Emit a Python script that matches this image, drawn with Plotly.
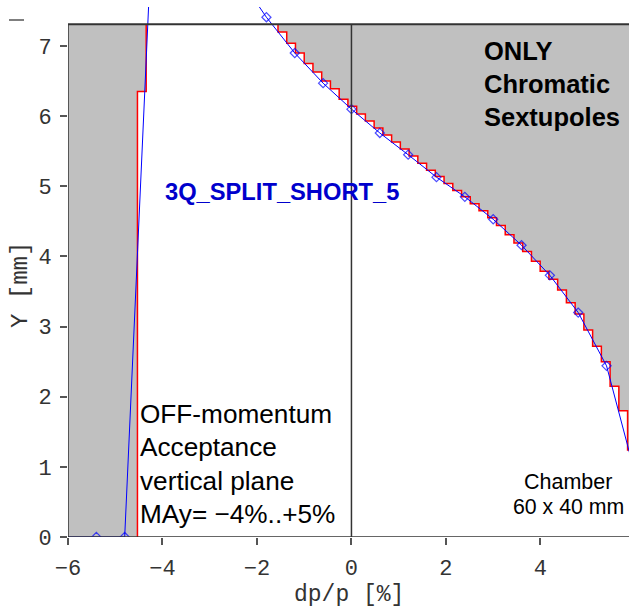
import plotly.graph_objects as go

# ---- data ----
# simulated acceptance points (blue, open diamonds)
dp_pts = [-6.0, -5.4, -4.8, -4.2, -3.6, -3.0, -2.4, -1.8, -1.2, -0.6, 0.0, 0.6,
          1.2, 1.8, 2.4, 3.0, 3.6, 4.2, 4.8, 5.4, 6.0]
y_pts = [0.0, 0.0, 0.0, 8.97, None, None, 8.0, 7.41, 6.90, 6.47, 6.10, 5.76,
         5.45, 5.13, 4.85, 4.53, 4.16, 3.73, 3.20, 2.44, 0.91]

# chamber / frame top (mm)
y_top = 7.31

# left staircase (negative momentum side): edge positions and levels reached
left_edges = [-4.53, -4.345]
left_levels = [6.35, 7.31]

# right staircase (positive side): bin edges and level after each edge
right_edges = [-1.555, -1.37, -1.185, -1.0, -0.815, -0.63, -0.445, -0.26, -0.075,
               0.11, 0.295, 0.48, 0.665, 0.85, 1.035, 1.22, 1.405, 1.59, 1.775,
               1.96, 2.145, 2.33, 2.515, 2.7, 2.885, 3.07, 3.255, 3.44, 3.625,
               3.81, 3.995, 4.18, 4.365, 4.55, 4.735, 4.92, 5.105, 5.29, 5.475,
               5.66, 5.845]
right_levels = [7.20, 7.04, 6.90, 6.75, 6.63, 6.50, 6.39, 6.24, 6.14,
                6.03, 5.93, 5.83, 5.73, 5.63, 5.53, 5.43, 5.33, 5.23, 5.14,
                5.04, 4.94, 4.85, 4.75, 4.65, 4.55, 4.44, 4.31, 4.19, 4.07,
                3.93, 3.79, 3.675, 3.52, 3.34, 3.18, 2.95, 2.72, 2.50, 2.15,
                1.80, 1.24]
right_end = 5.95

x_ticks = [-6, -4, -2, 0, 2, 4]
y_ticks = [0, 1, 2, 3, 4, 5, 6, 7]

X_MIN, X_MAX = -6.0, 5.875
Y_MIN, Y_MAX = 0.0, 7.556

# ---- build staircase paths ----
lx, ly = [], []
prev = 0.0
for i, (e, lv) in enumerate(zip(left_edges, left_levels)):
    lx += [e, e]
    ly += [prev, lv]
    if i + 1 < len(left_edges):
        lx.append(left_edges[i + 1])
        ly.append(lv)
    prev = lv

rx, ry = [], []
prev = y_top
for i, (e, lv) in enumerate(zip(right_edges, right_levels)):
    rx += [e, e]
    ry += [prev, lv]
    nxt = right_edges[i + 1] if i + 1 < len(right_edges) else right_end
    rx.append(nxt)
    ry.append(lv)
    prev = lv

GREY = "#c0c0c0"
fig = go.Figure()

# grey inaccessible regions
fig.add_trace(go.Scatter(
    x=[X_MIN] + lx + [X_MIN], y=[0.0] + ly + [y_top],
    fill="toself", fillcolor=GREY, mode="none", hoverinfo="skip", showlegend=False))
fig.add_trace(go.Scatter(
    x=rx + [right_end], y=ry + [y_top],
    fill="toself", fillcolor=GREY, mode="none", hoverinfo="skip", showlegend=False))

# red staircases
fig.add_trace(go.Scatter(x=lx, y=ly, mode="lines",
                         line=dict(color="red", width=1.5), showlegend=False))
fig.add_trace(go.Scatter(x=rx, y=ry, mode="lines",
                         line=dict(color="red", width=1.5), showlegend=False))

# blue acceptance curve (first point sits on the frame, its marker is hidden)
msize = [0 if x <= X_MIN else 7 for x in dp_pts]
fig.add_trace(go.Scatter(x=dp_pts, y=y_pts, mode="lines+markers",
                         line=dict(color="blue", width=1),
                         marker=dict(symbol="diamond-open", size=msize,
                                     color="blue", line=dict(width=1.2)),
                         connectgaps=False, showlegend=False))

# frame lines / zero line
frame_col = "#333333"
shapes = [
    dict(type="line", x0=X_MIN, x1=X_MAX, y0=y_top, y1=y_top,
         line=dict(color=frame_col, width=2)),
    dict(type="line", x0=X_MIN, x1=X_MIN, y0=0, y1=y_top,
         line=dict(color=frame_col, width=1.5)),
    dict(type="line", x0=X_MIN, x1=X_MAX, y0=0, y1=0,
         line=dict(color=frame_col, width=1.5)),
    dict(type="line", x0=0, x1=0, y0=0, y1=y_top,
         line=dict(color=frame_col, width=1.5)),
    dict(type="line", xref="paper", yref="paper", x0=(9 - 68) / 561, x1=(24 - 68) / 561,
         y0=1 - 13 / 530, y1=1 - 13 / 530, line=dict(color="#555555", width=1.5)),
]

W, H, L, T, B = 629, 610, 68, 7, 73
PW, PH = W - L, H - T - B


def px2paper(px):
    return (px - L) / PW


def py2paper(py):
    return 1 - (py - T) / PH


SANS = "Liberation Sans, Arial, sans-serif"
MONO = "Liberation Mono, Courier New, monospace"
ann = []


def txt(s, px, py, size, color="black", bold=False, xanchor="left"):
    ann.append(dict(x=px2paper(px), y=py2paper(py), xref="paper", yref="paper",
                    text=(f"<b>{s}</b>" if bold else s),
                    showarrow=False, xanchor=xanchor, yanchor="middle",
                    font=dict(family=SANS, size=size, color=color)))


for s, py in [("ONLY", 51), ("Chromatic", 84), ("Sextupoles", 117)]:
    txt(s, 482, py, 25.5, bold=True)
txt("3Q_SPLIT_SHORT_5", 163, 192, 23.7, color="#0000cc", bold=True)
for s, py in [("OFF-momentum", 414), ("Acceptance", 447), ("vertical plane", 481),
              ("MAy= \u22124%..+5%", 514)]:
    txt(s, 138, py, 26.2)
txt("Chamber", 568, 482, 21.5, xanchor="center")
txt("60 x 40 mm", 568, 507, 21.3, xanchor="center")

# axis titles
ann.append(dict(x=px2paper(349), y=py2paper(595), xref="paper", yref="paper",
                text="dp/p [%]", showarrow=False, xanchor="center", yanchor="middle",
                borderpad=0,
                font=dict(family=MONO, size=23, color="#333333")))
ann.append(dict(x=px2paper(20), y=py2paper(285), xref="paper", yref="paper",
                text="Y [mm]", showarrow=False, textangle=-90,
                xanchor="center", yanchor="middle",
                font=dict(family=MONO, size=24, color="#333333")))

fig.update_layout(
    width=W, height=H, margin=dict(l=L, r=0, t=T, b=B),
    plot_bgcolor="white", paper_bgcolor="white",
    shapes=shapes, annotations=ann,
    xaxis=dict(range=[X_MIN, X_MAX], tickvals=x_ticks,
               ticktext=[("\u2212" + str(-v)) if v < 0 else str(v) for v in x_ticks],
               ticks="outside", ticklen=7, tickcolor="#555555", tickwidth=1.5,
               showgrid=False, zeroline=False, showline=False,
               ticklabelstandoff=4,
               tickfont=dict(family=MONO, size=22, color="#333333")),
    yaxis=dict(range=[Y_MIN, Y_MAX], tickvals=y_ticks,
               ticks="outside", ticklen=7, tickcolor="#555555", tickwidth=1.5,
               showgrid=False, zeroline=False, showline=False,
               ticklabelstandoff=4,
               tickfont=dict(family=MONO, size=22, color="#333333")),
)

fig.write_html("out.html")
